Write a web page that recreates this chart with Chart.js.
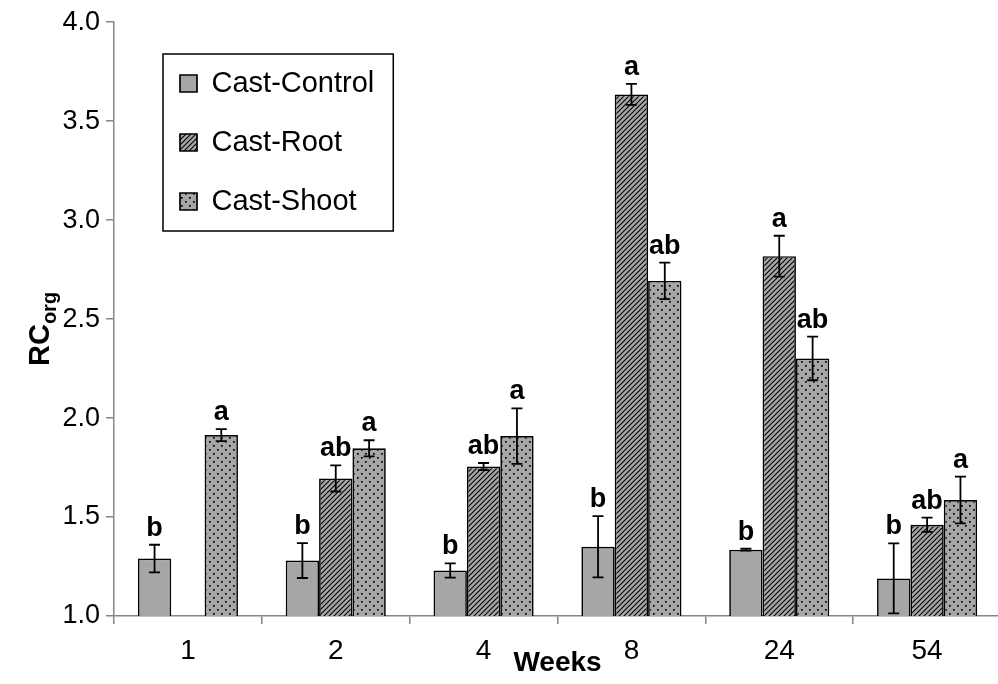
<!DOCTYPE html>
<html>
<head>
<meta charset="utf-8">
<script src="https://cdn.jsdelivr.net/npm/chart.js@4"></script>
<style>
    html, body { margin: 0; padding: 0; background: #fff; overflow: hidden; }
    #wrap { width: 1001px; height: 684px; }
</style>
</head>
<body>
<div id="wrap"><canvas id="graph"></canvas></div>
<script>
let weeks = ['1', '2', '4', '8', '24', '54'];
let control = [1.29, 1.28, 1.23, 1.35, 1.335, 1.19];
let controlErr = [0.07, 0.088, 0.036, 0.155, 0.005, 0.177];
let root = [null, 1.695, 1.755, 3.635, 2.818, 1.461];
let rootErr = [null, 0.066, 0.018, 0.053, 0.103, 0.036];
let shoot = [1.914, 1.847, 1.909, 2.693, 2.301, 1.586];
let shootErr = [0.03, 0.041, 0.14, 0.092, 0.11, 0.118];
let controlLetters = ['b', 'b', 'b', 'b', 'b', 'b'];
let rootLetters = [null, 'ab', 'ab', 'a', 'a', 'ab'];
let shootLetters = ['a', 'a', 'a', 'ab', 'ab', 'a'];

const FONT = "'Liberation Sans', Arial, sans-serif";
const GREY = '#a6a6a6';
const AXIS = '#868686';

function hatch() {
    let c = document.createElement('canvas');
    c.width = 5; c.height = 5;
    let g = c.getContext('2d');
    g.fillStyle = GREY;
    g.fillRect(0, 0, 5, 5);
    g.strokeStyle = '#000';
    g.lineWidth = 1.1;
    g.beginPath();
    g.moveTo(-1, 6); g.lineTo(6, -1);
    g.moveTo(-1, 1); g.lineTo(1, -1);
    g.moveTo(4, 6); g.lineTo(6, 4);
    g.stroke();
    return g.createPattern(c, 'repeat');
}

function dots() {
    let c = document.createElement('canvas');
    c.width = 8; c.height = 8;
    let g = c.getContext('2d');
    g.fillStyle = GREY;
    g.fillRect(0, 0, 8, 8);
    g.fillStyle = '#000';
    g.fillRect(1, 1, 1.7, 1.7);
    g.fillRect(5, 5, 1.7, 1.7);
    return g.createPattern(c, 'repeat');
}

let errs = [controlErr, rootErr, shootErr];
let letters = [controlLetters, rootLetters, shootLetters];

// error bars and significance letters
let extras = {
    id: 'extras',
    afterDatasetsDraw(chart) {
        let ctx = chart.ctx;
        let y = chart.scales.y;
        ctx.save();
        chart.data.datasets.forEach((ds, i) => {
            let meta = chart.getDatasetMeta(i);
            meta.data.forEach((bar, j) => {
                let v = ds.data[j];
                if (v == null) return;
                let e = errs[i][j];
                let top = y.getPixelForValue(v + e);
                let bot = y.getPixelForValue(v - e);
                ctx.strokeStyle = '#000';
                ctx.lineWidth = 1.8;
                ctx.beginPath();
                ctx.moveTo(bar.x, top); ctx.lineTo(bar.x, bot);
                ctx.moveTo(bar.x - 5.5, top); ctx.lineTo(bar.x + 5.5, top);
                ctx.moveTo(bar.x - 5.5, bot); ctx.lineTo(bar.x + 5.5, bot);
                ctx.stroke();
                let t = letters[i][j];
                if (t) {
                    ctx.fillStyle = '#000';
                    ctx.font = 'bold 27px ' + FONT;
                    ctx.textAlign = 'center';
                    ctx.textBaseline = 'alphabetic';
                    ctx.fillText(t, bar.x, top - 9);
                }
            });
        });
        ctx.restore();
    },
    afterLayout(chart) {
        chart.legend.left += 36;
        chart.legend.top += 39;
    },
    afterDraw(chart) {
        let ctx = chart.ctx;
        ctx.save();
        // legend frame
        let hb = chart.legend.legendHitBoxes;
        if (hb && hb.length) {
            let l = hb[0].left - 17;
            let t = hb[0].top - 15;
            let last = hb[hb.length - 1];
            let r = Math.max(...hb.map(b => b.left + b.width)) + 19;
            let b = last.top + last.height + 15;
            ctx.strokeStyle = '#000';
            ctx.lineWidth = 1.5;
            ctx.strokeRect(l, t, r - l, b - t);
        }
        // y axis title RC with subscript org
        ctx.fillStyle = '#000';
        ctx.translate(49, 366);
        ctx.rotate(-Math.PI / 2);
        ctx.textAlign = 'left';
        ctx.textBaseline = 'alphabetic';
        ctx.font = 'bold 29px ' + FONT;
        ctx.fillText('RC', 0, 0);
        let w = ctx.measureText('RC').width;
        ctx.font = 'bold 20px ' + FONT;
        ctx.fillText('org', w, 7);
        ctx.restore();
    }
};

let acCtx = document.getElementById('graph');
let chart = new Chart(acCtx, {
    type: 'bar',
    data: {
        labels: weeks,
        datasets: [
            {
                label: 'Cast-Control',
                data: control,
                backgroundColor: GREY,
                borderColor: '#000',
                borderWidth: 1.7,
            },
            {
                label: 'Cast-Root',
                data: root,
                backgroundColor: hatch(),
                borderColor: '#000',
                borderWidth: 1.7,
            },
            {
                label: 'Cast-Shoot',
                data: shoot,
                backgroundColor: dots(),
                borderColor: '#000',
                borderWidth: 1.7,
            },
        ],
    },
    options: {
        responsive: true,
        maintainAspectRatio: false,
        animation: false,
        datasets: {
            bar: {
                categoryPercentage: 0.677,
                barPercentage: 1,
            },
        },
        layout: {
            padding: { top: 22, left: 0, right: 0, bottom: 0 },
        },
        scales: {
            x: {
                grid: {
                    display: true,
                    drawOnChartArea: false,
                    drawTicks: true,
                    tickLength: 8,
                    color: AXIS,
                    lineWidth: 1.5,
                    offset: true,
                },
                border: { color: AXIS, width: 1.5 },
                ticks: {
                    color: '#000',
                    font: { family: FONT, size: 28 },
                    padding: 10,
                    maxRotation: 0,
                },
                title: {
                    display: true,
                    text: 'Weeks',
                    color: '#000',
                    font: { family: FONT, size: 28, weight: 'bold' },
                    padding: { top: 0, bottom: 4 },
                },
                afterFit(s) { s.height = 68; },
            },
            y: {
                min: 1,
                max: 4,
                ticks: {
                    stepSize: 0.5,
                    callback: v => v.toFixed(1),
                    color: '#000',
                    font: { family: FONT, size: 27 },
                    padding: 6,
                },
                grid: {
                    drawOnChartArea: false,
                    tickLength: 8,
                    color: AXIS,
                    lineWidth: 1.5,
                },
                border: { color: AXIS, width: 1.5 },
                afterFit(s) { s.width = 114; },
            },
        },
        plugins: {
            legend: {
                position: 'chartArea',
                align: 'start',
                labels: {
                    color: '#000',
                    font: { family: FONT, size: 29 },
                    boxWidth: 17,
                    boxHeight: 17,
                    padding: 30,
                },
            },
            tooltip: { enabled: false },
        },
    },
    plugins: [extras],
});
</script>
</body>
</html>
